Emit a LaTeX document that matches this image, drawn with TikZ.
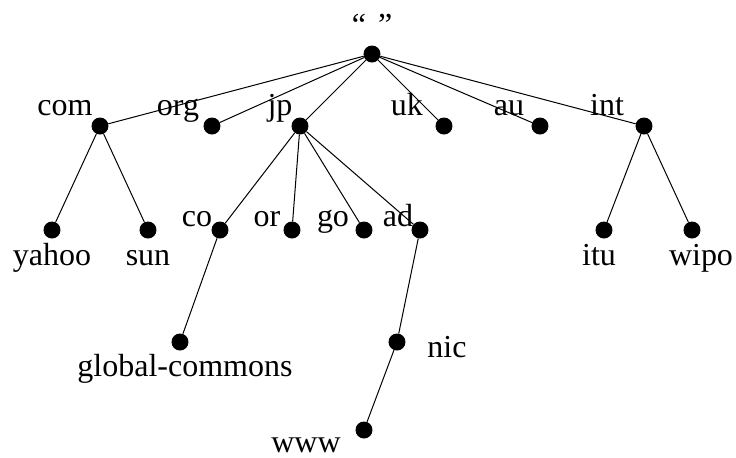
\documentclass[tikz,border=0pt]{standalone}
\usepackage{fontspec}
\setmainfont{Liberation Serif}
\begin{document}
\begin{tikzpicture}[line cap=round,line join=round,x=0.5pt,y=-0.5pt]
\tikzset{dot/.style={circle,fill,inner sep=0pt,minimum size=8.5pt},
  lbl/.style={anchor=base,inner sep=0pt,font=\fontsize{16}{19}\selectfont},
  edge/.style={line width=0.5pt}}
\useasboundingbox (0,0) rectangle (736,457);
% dots
\node [dot] (root) at (372,54) {};
\node [dot] (com) at (100,126) {};
\node [dot] (org) at (212,126) {};
\node [dot] (jp) at (300,126) {};
\node [dot] (uk) at (444,126) {};
\node [dot] (au) at (540,126) {};
\node [dot] (int) at (644,126) {};
\node [dot] (yahoo) at (52,230) {};
\node [dot] (sun) at (148,230) {};
\node [dot] (co) at (220,230) {};
\node [dot] (or) at (292,230) {};
\node [dot] (go) at (364,230) {};
\node [dot] (ad) at (420,230) {};
\node [dot] (itu) at (604,230) {};
\node [dot] (wipo) at (692,230) {};
\node [dot] (gc) at (180,342) {};
\node [dot] (nic) at (397,342) {};
\node [dot] (www) at (364,430) {};
% edges
\draw [edge] (root) -- (com);
\draw [edge] (root) -- (org);
\draw [edge] (root) -- (jp);
\draw [edge] (root) -- (uk);
\draw [edge] (root) -- (au);
\draw [edge] (root) -- (int);
\draw [edge] (com) -- (yahoo);
\draw [edge] (com) -- (sun);
\draw [edge] (jp) -- (co);
\draw [edge] (jp) -- (or);
\draw [edge] (jp) -- (go);
\draw [edge] (jp) -- (ad);
\draw [edge] (int) -- (itu);
\draw [edge] (int) -- (wipo);
\draw [edge] (co) -- (gc);
\draw [edge] (ad) -- (nic);
\draw [edge] (nic) -- (www);
% labels
\node [lbl] (l-root) at (372,35) {“\hspace{6pt}”};
\node [lbl] (l-com) at (65,115) {com};
\node [lbl] (l-org) at (178,115) {org};
\node [lbl] (l-jp) at (280,115) {jp};
\node [lbl] (l-uk) at (407,115) {uk};
\node [lbl] (l-au) at (509,115) {au};
\node [lbl] (l-int) at (607,115) {int};
\node [lbl] (l-co) at (197,226) {co};
\node [lbl] (l-or) at (267,226) {or};
\node [lbl] (l-go) at (333,226) {go};
\node [lbl] (l-ad) at (398,226) {ad};
\node [lbl] (l-yahoo) at (52,265) {yahoo};
\node [lbl] (l-sun) at (148,265) {sun};
\node [lbl] (l-itu) at (599,265) {itu};
\node [lbl] (l-wipo) at (701,265) {wipo};
\node [lbl] (l-gc) at (185,376) {global-commons};
\node [lbl] (l-nic) at (447,357) {nic};
\node [lbl] (l-www) at (306,452) {www};
\end{tikzpicture}
\end{document}
